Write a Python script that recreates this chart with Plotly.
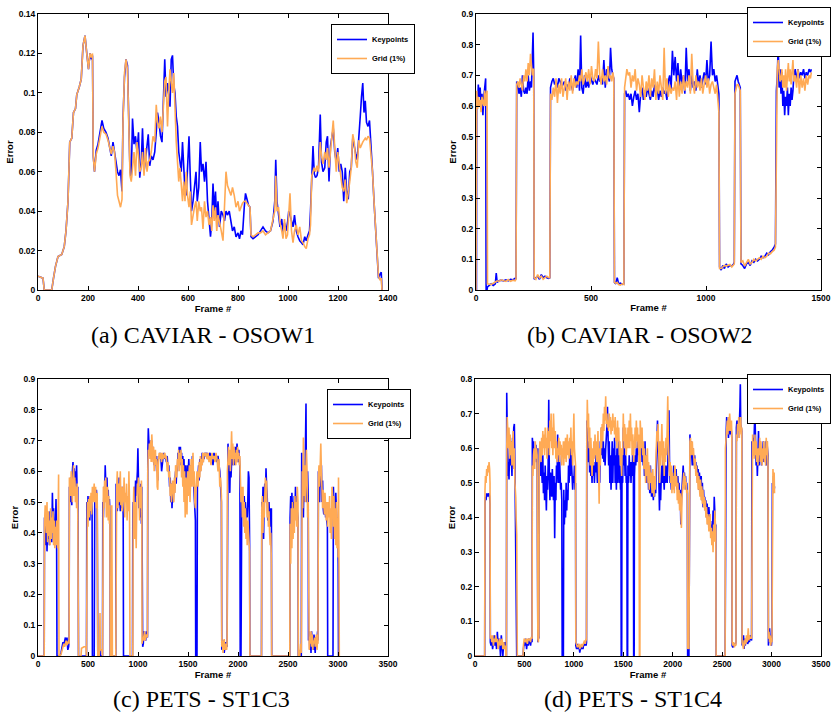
import plotly.graph_objects as go

# ---------------- data (frame, keypoints error, grid(1%) error) ----------------
osow1_rows = [
    (0, 0.007, 0.007), (20, 0.006, 0.006), (25, 0.0, 0.0), (55, 0.0, 0.0), (62, 0.006, 0.006),
    (70, 0.012, 0.012), (80, 0.017, 0.017), (95, 0.018, 0.018), (105, 0.022, 0.022), (112, 0.03, 0.03),
    (120, 0.045, 0.045), (127, 0.075, 0.075), (135, 0.077, 0.077), (142, 0.09, 0.09), (150, 0.092, 0.092),
    (155, 0.099, 0.099), (165, 0.103, 0.103), (173, 0.107, 0.107), (180, 0.124, 0.124), (188, 0.129, 0.129),
    (195, 0.12, 0.12), (202, 0.112, 0.112), (208, 0.12, 0.12), (214, 0.117, 0.118), (218, 0.119, 0.12),
    (221, 0.068, 0.068), (226, 0.06, 0.06), (233, 0.071, 0.069), (240, 0.074, 0.072), (248, 0.08, 0.078),
    (256, 0.086, 0.083), (263, 0.082, 0.08), (272, 0.08, 0.079), (280, 0.077, 0.076), (287, 0.071, 0.072),
    (293, 0.068, 0.069), (300, 0.075, 0.073), (306, 0.069, 0.07), (312, 0.066, 0.06), (318, 0.06, 0.048),
    (324, 0.058, 0.045), (330, 0.061, 0.042), (336, 0.05, 0.046), (340, 0.087, 0.085), (346, 0.108, 0.11),
    (352, 0.117, 0.117), (358, 0.114, 0.112), (363, 0.09, 0.085), (368, 0.06, 0.058), (373, 0.057, 0.055),
    (378, 0.087, 0.063), (384, 0.074, 0.07), (390, 0.078, 0.058), (396, 0.07, 0.075), (402, 0.08, 0.068),
    (407, 0.057, 0.06), (413, 0.065, 0.062), (418, 0.082, 0.07), (424, 0.06, 0.058), (430, 0.066, 0.072),
    (436, 0.075, 0.06), (441, 0.079, 0.065), (447, 0.063, 0.066), (453, 0.068, 0.07), (460, 0.066, 0.078),
    (467, 0.07, 0.075), (473, 0.08, 0.094), (478, 0.09, 0.085), (484, 0.085, 0.082), (490, 0.078, 0.088),
    (496, 0.075, 0.08), (502, 0.1, 0.099), (507, 0.117, 0.106), (512, 0.098, 0.108), (518, 0.105, 0.083),
    (523, 0.099, 0.1), (528, 0.093, 0.112), (533, 0.117, 0.105), (538, 0.119, 0.1), (543, 0.104, 0.11),
    (548, 0.1, 0.09), (553, 0.088, 0.075), (558, 0.083, 0.065), (563, 0.07, 0.055), (568, 0.065, 0.062),
    (573, 0.06, 0.05), (578, 0.075, 0.045), (583, 0.06, 0.055), (588, 0.05, 0.045), (593, 0.048, 0.06),
    (598, 0.062, 0.048), (604, 0.078, 0.042), (609, 0.058, 0.05), (614, 0.04, 0.033), (620, 0.045, 0.038),
    (626, 0.055, 0.042), (632, 0.06, 0.045), (637, 0.045, 0.035), (643, 0.052, 0.045), (649, 0.075, 0.04),
    (654, 0.06, 0.042), (660, 0.064, 0.031), (666, 0.055, 0.045), (672, 0.065, 0.037), (678, 0.045, 0.04),
    (684, 0.036, 0.033), (690, 0.027, 0.037), (695, 0.035, 0.03), (700, 0.054, 0.043), (705, 0.04, 0.035),
    (710, 0.05, 0.042), (715, 0.035, 0.03), (720, 0.045, 0.038), (726, 0.032, 0.035), (733, 0.04, 0.03),
    (740, 0.038, 0.025), (746, 0.035, 0.045), (752, 0.04, 0.06), (758, 0.038, 0.053), (765, 0.04, 0.05),
    (772, 0.035, 0.048), (778, 0.03, 0.052), (785, 0.032, 0.048), (792, 0.027, 0.042), (800, 0.029, 0.045),
    (806, 0.026, 0.04), (812, 0.03, 0.042), (818, 0.028, 0.044), (825, 0.042, 0.045), (830, 0.049, 0.045),
    (836, 0.046, 0.044), (842, 0.043, 0.043), (848, 0.042, 0.042), (852, 0.027, 0.028), (860, 0.026, 0.027),
    (870, 0.027, 0.028), (880, 0.028, 0.029), (890, 0.03, 0.029), (900, 0.032, 0.03), (910, 0.03, 0.028),
    (920, 0.029, 0.029), (930, 0.03, 0.03), (940, 0.035, 0.036), (947, 0.045, 0.04), (951, 0.066, 0.058),
    (956, 0.045, 0.04), (962, 0.038, 0.042), (968, 0.032, 0.034), (975, 0.036, 0.03), (980, 0.029, 0.026),
    (986, 0.034, 0.036), (992, 0.03, 0.026), (998, 0.034, 0.028), (1003, 0.04, 0.042), (1008, 0.038, 0.049),
    (1014, 0.035, 0.03), (1020, 0.032, 0.024), (1026, 0.038, 0.03), (1033, 0.03, 0.033), (1040, 0.027, 0.028),
    (1047, 0.025, 0.032), (1054, 0.024, 0.025), (1060, 0.023, 0.024), (1067, 0.027, 0.022), (1073, 0.025, 0.021),
    (1080, 0.028, 0.026), (1086, 0.03, 0.028), (1090, 0.04, 0.033), (1095, 0.06, 0.058), (1100, 0.073, 0.06),
    (1105, 0.059, 0.062), (1110, 0.057, 0.06), (1116, 0.058, 0.063), (1122, 0.062, 0.06), (1129, 0.089, 0.075),
    (1134, 0.065, 0.068), (1140, 0.06, 0.064), (1147, 0.062, 0.07), (1153, 0.075, 0.066), (1158, 0.078, 0.072),
    (1164, 0.055, 0.062), (1170, 0.073, 0.07), (1176, 0.078, 0.08), (1181, 0.082, 0.086), (1187, 0.07, 0.072),
    (1193, 0.065, 0.06), (1199, 0.072, 0.07), (1205, 0.06, 0.064), (1211, 0.064, 0.058), (1217, 0.06, 0.052),
    (1223, 0.045, 0.05), (1229, 0.062, 0.056), (1235, 0.05, 0.044), (1241, 0.046, 0.049), (1247, 0.06, 0.055),
    (1253, 0.062, 0.062), (1259, 0.077, 0.079), (1265, 0.072, 0.075), (1271, 0.069, 0.065), (1277, 0.066, 0.062),
    (1283, 0.08, 0.076), (1289, 0.088, 0.072), (1294, 0.098, 0.074), (1299, 0.105, 0.075), (1304, 0.09, 0.076),
    (1309, 0.096, 0.077), (1314, 0.085, 0.076), (1320, 0.083, 0.078), (1326, 0.086, 0.077), (1332, 0.075, 0.07),
    (1338, 0.06, 0.06), (1344, 0.045, 0.045), (1350, 0.032, 0.03), (1356, 0.02, 0.02), (1362, 0.006, 0.007),
    (1368, 0.008, 0.005), (1373, 0.009, 0.006), (1376, 0.0, 0.0),
]

osow2_rows = [
    (0, 0.0, 0.0), (2, 0.0, 0.6), (3, 0.62, 0.65), (7, 0.6, 0.59), (10, 0.67, 0.63), (14, 0.63, 0.6),
    (18, 0.66, 0.62), (22, 0.6, 0.58), (26, 0.64, 0.63), (30, 0.57, 0.61), (34, 0.63, 0.6), (38, 0.66, 0.65),
    (42, 0.69, 0.6), (44, 0.0, 0.63), (48, 0.0, 0.65), (50, 0.01, 0.02), (58, 0.015, 0.02), (66, 0.02, 0.018),
    (75, 0.015, 0.022), (84, 0.02, 0.025), (88, 0.055, 0.028), (92, 0.025, 0.03), (100, 0.03, 0.028),
    (110, 0.032, 0.033), (120, 0.03, 0.03), (130, 0.033, 0.028), (140, 0.03, 0.034), (150, 0.035, 0.028),
    (160, 0.033, 0.032), (170, 0.038, 0.03), (174, 0.035, 0.035), (177, 0.68, 0.67), (182, 0.67, 0.68),
    (187, 0.64, 0.66), (192, 0.66, 0.69), (197, 0.63, 0.67), (202, 0.7, 0.65), (207, 0.65, 0.7),
    (212, 0.64, 0.68), (217, 0.66, 0.72), (222, 0.64, 0.68), (227, 0.7, 0.74), (232, 0.65, 0.7),
    (237, 0.68, 0.77), (241, 0.66, 0.72), (245, 0.75, 0.7), (248, 0.84, 0.72), (251, 0.7, 0.72),
    (253, 0.035, 0.04), (260, 0.04, 0.035), (268, 0.045, 0.05), (276, 0.035, 0.04), (284, 0.05, 0.045),
    (292, 0.04, 0.035), (300, 0.045, 0.04), (308, 0.04, 0.045), (316, 0.038, 0.04), (321, 0.04, 0.04),
    (324, 0.66, 0.64), (330, 0.68, 0.62), (336, 0.69, 0.66), (342, 0.67, 0.63), (348, 0.68, 0.69),
    (354, 0.66, 0.61), (360, 0.69, 0.67), (366, 0.68, 0.64), (372, 0.66, 0.69), (378, 0.67, 0.63),
    (384, 0.68, 0.66), (390, 0.65, 0.69), (396, 0.67, 0.62), (402, 0.66, 0.68), (408, 0.69, 0.65),
    (414, 0.67, 0.7), (420, 0.65, 0.64), (426, 0.68, 0.69), (432, 0.7, 0.66), (438, 0.66, 0.68),
    (444, 0.72, 0.67), (450, 0.65, 0.7), (455, 0.83, 0.68), (460, 0.66, 0.72), (466, 0.64, 0.67),
    (472, 0.7, 0.69), (478, 0.66, 0.71), (484, 0.68, 0.68), (490, 0.66, 0.72), (496, 0.7, 0.67),
    (502, 0.68, 0.73), (508, 0.67, 0.69), (514, 0.69, 0.68), (520, 0.68, 0.72), (526, 0.67, 0.69),
    (532, 0.7, 0.81), (538, 0.68, 0.7), (544, 0.69, 0.67), (550, 0.67, 0.72), (556, 0.75, 0.68),
    (562, 0.66, 0.7), (568, 0.72, 0.67), (574, 0.7, 0.73), (580, 0.68, 0.69), (585, 0.79, 0.7),
    (590, 0.72, 0.68), (595, 0.7, 0.71), (599, 0.69, 0.69), (602, 0.025, 0.025), (608, 0.02, 0.022),
    (614, 0.04, 0.025), (620, 0.02, 0.018), (628, 0.022, 0.016), (636, 0.018, 0.02), (643, 0.02, 0.018),
    (646, 0.64, 0.66), (651, 0.65, 0.7), (656, 0.63, 0.72), (662, 0.64, 0.7), (668, 0.62, 0.71),
    (674, 0.64, 0.66), (680, 0.6, 0.7), (686, 0.63, 0.68), (692, 0.65, 0.72), (698, 0.62, 0.65),
    (704, 0.64, 0.69), (710, 0.58, 0.67), (716, 0.64, 0.63), (722, 0.66, 0.7), (728, 0.62, 0.66),
    (734, 0.65, 0.62), (740, 0.63, 0.68), (746, 0.66, 0.65), (752, 0.64, 0.7), (758, 0.62, 0.63),
    (764, 0.65, 0.69), (770, 0.63, 0.66), (776, 0.67, 0.72), (782, 0.64, 0.62), (788, 0.66, 0.68),
    (794, 0.62, 0.64), (800, 0.65, 0.7), (806, 0.63, 0.66), (812, 0.66, 0.62), (818, 0.64, 0.79),
    (824, 0.65, 0.64), (830, 0.62, 0.69), (836, 0.68, 0.63), (842, 0.7, 0.67), (848, 0.65, 0.64),
    (854, 0.78, 0.66), (860, 0.7, 0.65), (866, 0.76, 0.68), (872, 0.68, 0.62), (878, 0.74, 0.7),
    (884, 0.66, 0.63), (890, 0.72, 0.68), (896, 0.67, 0.64), (902, 0.7, 0.7), (908, 0.64, 0.65),
    (914, 0.79, 0.68), (920, 0.68, 0.66), (926, 0.72, 0.7), (932, 0.65, 0.64), (938, 0.7, 0.77),
    (944, 0.66, 0.67), (950, 0.68, 0.64), (956, 0.65, 0.7), (962, 0.72, 0.66), (968, 0.67, 0.68),
    (974, 0.7, 0.65), (980, 0.66, 0.69), (986, 0.68, 0.64), (992, 0.71, 0.67), (998, 0.67, 0.7),
    (1004, 0.75, 0.66), (1010, 0.68, 0.69), (1016, 0.7, 0.64), (1022, 0.81, 0.67), (1028, 0.7, 0.68),
    (1034, 0.72, 0.66), (1040, 0.68, 0.64), (1046, 0.7, 0.67), (1052, 0.66, 0.62), (1056, 0.64, 0.58),
    (1059, 0.075, 0.07), (1066, 0.065, 0.07), (1073, 0.08, 0.075), (1080, 0.07, 0.08), (1088, 0.085, 0.078),
    (1096, 0.075, 0.08), (1104, 0.08, 0.083), (1112, 0.078, 0.075), (1120, 0.085, 0.082), (1123, 0.09, 0.085),
    (1126, 0.68, 0.64), (1130, 0.69, 0.66), (1135, 0.7, 0.67), (1140, 0.68, 0.67), (1146, 0.67, 0.66),
    (1149, 0.66, 0.65), (1152, 0.085, 0.09), (1160, 0.08, 0.095), (1168, 0.07, 0.078), (1176, 0.085, 0.09),
    (1184, 0.09, 0.1), (1192, 0.08, 0.085), (1200, 0.095, 0.09), (1208, 0.09, 0.1), (1216, 0.1, 0.095),
    (1224, 0.095, 0.1), (1232, 0.1, 0.105), (1240, 0.11, 0.1), (1248, 0.105, 0.11), (1256, 0.11, 0.105),
    (1264, 0.12, 0.11), (1272, 0.115, 0.12), (1280, 0.125, 0.118), (1288, 0.13, 0.125), (1296, 0.14, 0.13),
    (1302, 0.15, 0.14), (1306, 0.65, 0.62), (1310, 0.7, 0.72), (1314, 0.8, 0.75), (1318, 0.66, 0.7),
    (1322, 0.72, 0.68), (1326, 0.64, 0.69), (1330, 0.71, 0.72), (1334, 0.6, 0.66), (1338, 0.65, 0.7),
    (1342, 0.57, 0.66), (1346, 0.63, 0.72), (1350, 0.6, 0.65), (1354, 0.66, 0.7), (1358, 0.57, 0.74),
    (1362, 0.64, 0.68), (1366, 0.6, 0.72), (1370, 0.66, 0.67), (1374, 0.62, 0.7), (1378, 0.65, 0.75),
    (1382, 0.7, 0.68), (1388, 0.72, 0.7), (1394, 0.68, 0.66), (1400, 0.72, 0.72), (1406, 0.69, 0.64),
    (1412, 0.71, 0.7), (1418, 0.7, 0.66), (1424, 0.72, 0.69), (1430, 0.69, 0.65), (1436, 0.71, 0.7),
    (1442, 0.7, 0.67), (1448, 0.72, 0.7), (1454, 0.71, 0.69), (1458, 0.72, 0.71),
]

st1c3_rows = [
    (0, 0.0, 0.0), (62, 0.0, 0.0), (65, 0.45, 0.43), (72, 0.4, 0.49), (78, 0.36, 0.45), (84, 0.47, 0.4),
    (90, 0.34, 0.5), (96, 0.42, 0.37), (102, 0.38, 0.47), (108, 0.45, 0.39), (114, 0.36, 0.44), (120, 0.47, 0.36),
    (126, 0.4, 0.48), (132, 0.44, 0.38), (138, 0.37, 0.45), (144, 0.53, 0.4), (150, 0.42, 0.47), (156, 0.48, 0.36),
    (162, 0.38, 0.44), (168, 0.44, 0.35), (174, 0.41, 0.42), (180, 0.51, 0.36), (186, 0.39, 0.44), (190, 0.0, 0.4),
    (196, 0.0, 0.35), (202, 0.0, 0.47), (206, 0.0, 0.59), (210, 0.0, 0.0), (220, 0.0, 0.0), (230, 0.01, 0.005),
    (240, 0.03, 0.02), (250, 0.045, 0.035), (258, 0.035, 0.04), (266, 0.05, 0.03), (274, 0.06, 0.045),
    (282, 0.04, 0.05), (290, 0.06, 0.035), (298, 0.02, 0.045), (306, 0.03, 0.05), (311, 0.05, 0.04),
    (314, 0.55, 0.58), (320, 0.5, 0.56), (326, 0.58, 0.52), (332, 0.55, 0.6), (338, 0.49, 0.54), (344, 0.6, 0.5),
    (350, 0.63, 0.57), (356, 0.57, 0.62), (362, 0.61, 0.52), (368, 0.55, 0.58), (374, 0.6, 0.5), (380, 0.57, 0.55),
    (386, 0.62, 0.48), (392, 0.52, 0.56), (398, 0.55, 0.46), (402, 0.33, 0.33), (405, 0.0, 0.0), (430, 0.0, 0.0),
    (435, 0.0, 0.025), (460, 0.0, 0.03), (480, 0.0, 0.03), (485, 0.0, 0.0), (488, 0.5, 0.48), (494, 0.45, 0.5),
    (500, 0.52, 0.42), (506, 0.47, 0.51), (512, 0.5, 0.45), (518, 0.44, 0.52), (524, 0.52, 0.47), (530, 0.47, 0.53),
    (536, 0.5, 0.46), (541, 0.47, 0.52), (544, 0.0, 0.55), (550, 0.0, 0.5), (556, 0.0, 0.53), (562, 0.0, 0.56),
    (568, 0.54, 0.5), (576, 0.52, 0.55), (584, 0.54, 0.48), (592, 0.5, 0.53), (598, 0.0, 0.0), (612, 0.0, 0.0),
    (615, 0.0, 0.02), (620, 0.02, 0.14), (623, 0.0, 0.02), (640, 0.0, 0.02), (645, 0.0, 0.0), (648, 0.5, 0.47),
    (654, 0.45, 0.55), (660, 0.55, 0.48), (666, 0.5, 0.57), (672, 0.62, 0.5), (678, 0.55, 0.58), (684, 0.5, 0.45),
    (690, 0.58, 0.52), (696, 0.48, 0.55), (702, 0.54, 0.44), (708, 0.45, 0.52), (714, 0.51, 0.43), (719, 0.47, 0.49),
    (722, 0.0, 0.0), (735, 0.0, 0.0), (738, 0.0, 0.49), (744, 0.0, 0.0), (778, 0.0, 0.0), (781, 0.56, 0.5),
    (787, 0.5, 0.55), (793, 0.47, 0.6), (799, 0.55, 0.48), (805, 0.49, 0.56), (811, 0.58, 0.5), (817, 0.5, 0.54),
    (823, 0.47, 0.6), (829, 0.53, 0.49), (835, 0.48, 0.55), (841, 0.55, 0.47), (847, 0.5, 0.52), (852, 0.46, 0.55),
    (855, 0.0, 0.5), (861, 0.0, 0.58), (867, 0.0, 0.45), (873, 0.0, 0.53), (879, 0.0, 0.5), (885, 0.0, 0.56),
    (891, 0.0, 0.44), (897, 0.0, 0.52), (903, 0.0, 0.47), (909, 0.0, 0.6), (915, 0.0, 0.5), (920, 0.0, 0.0),
    (945, 0.0, 0.0), (948, 0.45, 0.0), (952, 0.5, 0.45), (958, 0.47, 0.55), (964, 0.55, 0.38), (970, 0.5, 0.5),
    (976, 0.57, 0.45), (982, 0.52, 0.35), (988, 0.55, 0.5), (994, 0.6, 0.56), (999, 0.675, 0.54), (1004, 0.52, 0.58),
    (1010, 0.48, 0.5), (1016, 0.55, 0.44), (1022, 0.45, 0.55), (1028, 0.56, 0.48), (1034, 0.43, 0.57),
    (1038, 0.55, 0.52), (1041, 0.05, 0.04), (1047, 0.03, 0.06), (1053, 0.04, 0.05), (1059, 0.08, 0.07),
    (1065, 0.06, 0.08), (1071, 0.07, 0.05), (1077, 0.05, 0.06), (1083, 0.08, 0.07), (1090, 0.07, 0.06),
    (1095, 0.06, 0.07), (1098, 0.65, 0.6), (1103, 0.74, 0.67), (1108, 0.7, 0.65), (1114, 0.66, 0.69),
    (1120, 0.7, 0.64), (1126, 0.68, 0.7), (1132, 0.66, 0.63), (1138, 0.7, 0.72), (1144, 0.64, 0.67),
    (1150, 0.68, 0.63), (1156, 0.65, 0.68), (1162, 0.62, 0.6), (1168, 0.66, 0.64), (1174, 0.62, 0.67),
    (1180, 0.65, 0.62), (1186, 0.6, 0.64), (1192, 0.64, 0.55), (1198, 0.57, 0.54), (1204, 0.65, 0.63),
    (1212, 0.64, 0.66), (1220, 0.66, 0.64), (1228, 0.65, 0.66), (1236, 0.6, 0.63), (1244, 0.64, 0.66),
    (1252, 0.65, 0.64), (1260, 0.66, 0.65), (1268, 0.64, 0.66), (1276, 0.65, 0.64), (1284, 0.63, 0.65),
    (1292, 0.65, 0.6), (1300, 0.6, 0.63), (1308, 0.62, 0.58), (1316, 0.55, 0.6), (1322, 0.58, 0.52),
    (1328, 0.5, 0.56), (1334, 0.56, 0.5), (1340, 0.48, 0.54), (1346, 0.53, 0.57), (1352, 0.5, 0.55),
    (1358, 0.55, 0.5), (1364, 0.53, 0.58), (1370, 0.57, 0.53), (1376, 0.6, 0.62), (1382, 0.56, 0.6),
    (1388, 0.62, 0.58), (1394, 0.6, 0.64), (1400, 0.66, 0.62), (1406, 0.63, 0.67), (1412, 0.68, 0.6),
    (1418, 0.64, 0.66), (1424, 0.68, 0.63), (1430, 0.62, 0.67), (1436, 0.66, 0.58), (1442, 0.6, 0.64),
    (1448, 0.65, 0.55), (1454, 0.58, 0.62), (1460, 0.64, 0.5), (1466, 0.55, 0.6), (1472, 0.62, 0.45),
    (1478, 0.5, 0.58), (1484, 0.58, 0.5), (1490, 0.62, 0.46), (1496, 0.55, 0.6), (1502, 0.6, 0.52),
    (1508, 0.64, 0.57), (1514, 0.58, 0.62), (1520, 0.55, 0.5), (1526, 0.62, 0.58), (1532, 0.58, 0.64),
    (1538, 0.6, 0.55), (1544, 0.65, 0.62), (1550, 0.6, 0.66), (1556, 0.55, 0.55), (1562, 0.5, 0.6),
    (1568, 0.45, 0.5), (1574, 0.44, 0.48), (1577, 0.0, 0.52), (1584, 0.0, 0.56), (1590, 0.0, 0.6),
    (1594, 0.55, 0.58), (1600, 0.6, 0.55), (1606, 0.62, 0.6), (1612, 0.57, 0.63), (1618, 0.64, 0.58),
    (1624, 0.6, 0.65), (1630, 0.65, 0.6), (1636, 0.62, 0.64), (1642, 0.66, 0.62), (1648, 0.63, 0.66),
    (1654, 0.65, 0.63), (1660, 0.64, 0.66), (1670, 0.66, 0.65), (1680, 0.65, 0.66), (1690, 0.66, 0.64),
    (1700, 0.64, 0.66), (1710, 0.65, 0.63), (1720, 0.66, 0.65), (1730, 0.64, 0.62), (1740, 0.65, 0.66),
    (1750, 0.62, 0.64), (1760, 0.66, 0.65), (1770, 0.64, 0.63), (1780, 0.65, 0.66), (1790, 0.63, 0.64),
    (1800, 0.65, 0.6), (1810, 0.62, 0.64), (1818, 0.6, 0.55), (1826, 0.55, 0.58), (1834, 0.5, 0.52),
    (1838, 0.02, 0.03), (1844, 0.04, 0.05), (1850, 0.02, 0.01), (1856, 0.05, 0.04), (1862, 0.01, 0.055),
    (1868, 0.03, 0.02), (1874, 0.045, 0.04), (1880, 0.02, 0.035), (1886, 0.04, 0.02), (1891, 0.03, 0.04),
    (1894, 0.62, 0.6), (1900, 0.69, 0.66), (1906, 0.6, 0.68), (1912, 0.66, 0.62), (1918, 0.53, 0.67),
    (1924, 0.64, 0.6), (1930, 0.58, 0.7), (1936, 0.65, 0.73), (1942, 0.68, 0.64), (1948, 0.62, 0.69),
    (1954, 0.67, 0.62), (1960, 0.65, 0.68), (1966, 0.62, 0.64), (1972, 0.68, 0.66), (1978, 0.66, 0.62),
    (1984, 0.64, 0.67), (1990, 0.69, 0.63), (1996, 0.66, 0.68), (2002, 0.63, 0.64), (2008, 0.67, 0.66),
    (2014, 0.65, 0.62), (2019, 0.62, 0.65), (2022, 0.0, 0.6), (2030, 0.0, 0.5), (2038, 0.52, 0.55),
    (2044, 0.48, 0.45), (2050, 0.5, 0.55), (2056, 0.45, 0.42), (2062, 0.52, 0.5), (2068, 0.47, 0.4),
    (2074, 0.5, 0.48), (2080, 0.44, 0.38), (2086, 0.48, 0.45), (2092, 0.45, 0.36), (2098, 0.5, 0.44),
    (2104, 0.6, 0.4), (2110, 0.58, 0.36), (2116, 0.36, 0.34), (2119, 0.0, 0.0), (2235, 0.0, 0.0),
    (2238, 0.5, 0.48), (2244, 0.45, 0.52), (2250, 0.55, 0.4), (2256, 0.38, 0.5), (2262, 0.52, 0.45),
    (2268, 0.56, 0.55), (2274, 0.5, 0.58), (2280, 0.61, 0.5), (2286, 0.55, 0.57), (2292, 0.52, 0.45),
    (2298, 0.44, 0.5), (2304, 0.48, 0.42), (2310, 0.5, 0.47), (2316, 0.45, 0.4), (2322, 0.48, 0.36),
    (2328, 0.42, 0.4), (2334, 0.48, 0.3), (2337, 0.0, 0.0), (2518, 0.0, 0.0), (2521, 0.45, 0.43),
    (2527, 0.52, 0.3), (2533, 0.42, 0.48), (2539, 0.53, 0.35), (2545, 0.46, 0.5), (2551, 0.5, 0.38),
    (2557, 0.42, 0.48), (2563, 0.52, 0.4), (2569, 0.46, 0.52), (2575, 0.55, 0.44), (2581, 0.48, 0.5),
    (2587, 0.52, 0.42), (2593, 0.47, 0.55), (2600, 0.45, 0.5), (2603, 0.0, 0.0), (2610, 0.0, 0.02),
    (2618, 0.01, 0.0), (2626, 0.0, 0.04), (2633, 0.0, 0.01), (2637, 0.66, 0.55), (2642, 0.5, 0.6),
    (2648, 0.58, 0.48), (2654, 0.45, 0.71), (2660, 0.6, 0.52), (2666, 0.5, 0.62), (2672, 0.62, 0.5),
    (2676, 0.72, 0.6), (2680, 0.82, 0.55), (2684, 0.55, 0.67), (2690, 0.5, 0.6), (2696, 0.6, 0.45),
    (2702, 0.52, 0.5), (2705, 0.05, 0.03), (2712, 0.08, 0.02), (2718, 0.02, 0.06), (2724, 0.07, 0.04),
    (2730, 0.01, 0.08), (2736, 0.08, 0.03), (2742, 0.03, 0.07), (2748, 0.06, 0.02), (2754, 0.02, 0.05),
    (2760, 0.07, 0.04), (2766, 0.04, 0.06), (2772, 0.01, 0.03), (2778, 0.06, 0.05), (2784, 0.03, 0.07),
    (2790, 0.05, 0.02), (2796, 0.08, 0.06), (2800, 0.05, 0.04), (2804, 0.6, 0.58), (2810, 0.56, 0.62),
    (2816, 0.5, 0.55), (2822, 0.6, 0.65), (2828, 0.55, 0.69), (2834, 0.62, 0.6), (2840, 0.5, 0.56),
    (2846, 0.57, 0.48), (2852, 0.48, 0.54), (2858, 0.46, 0.5), (2864, 0.52, 0.46), (2870, 0.5, 0.53),
    (2876, 0.45, 0.48), (2882, 0.48, 0.44), (2888, 0.44, 0.5), (2894, 0.42, 0.47), (2897, 0.0, 0.42),
    (2904, 0.0, 0.5), (2910, 0.0, 0.45), (2916, 0.0, 0.52), (2922, 0.0, 0.4), (2928, 0.0, 0.48),
    (2934, 0.0, 0.38), (2940, 0.0, 0.55), (2950, 0.0, 0.5), (2954, 0.55, 0.42), (2960, 0.48, 0.52),
    (2966, 0.52, 0.38), (2972, 0.45, 0.48), (2978, 0.53, 0.36), (2984, 0.47, 0.5), (2990, 0.42, 0.35),
    (2996, 0.45, 0.45), (3002, 0.3, 0.32), (3005, 0.0, 0.58), (3010, 0.0, 0.3), (3013, 0.0, 0.0),
]

st1c4_rows = [
    (0, 0.0, 0.0), (98, 0.0, 0.0), (101, 0.44, 0.48), (106, 0.46, 0.52), (112, 0.45, 0.5), (118, 0.47, 0.54),
    (124, 0.46, 0.52), (130, 0.47, 0.55), (136, 0.46, 0.53), (142, 0.47, 0.56), (148, 0.46, 0.54), (152, 0.44, 0.5),
    (155, 0.04, 0.05), (162, 0.03, 0.06), (170, 0.05, 0.04), (178, 0.02, 0.06), (186, 0.04, 0.03), (194, 0.06, 0.05),
    (202, 0.03, 0.04), (210, 0.05, 0.06), (218, 0.02, 0.04), (226, 0.07, 0.05), (234, 0.03, 0.02), (242, 0.05, 0.04),
    (250, 0.04, 0.05), (258, 0.0, 0.03), (266, 0.06, 0.04), (274, 0.01, 0.05), (282, 0.0, 0.02), (290, 0.04, 0.04),
    (298, 0.03, 0.02), (306, 0.04, 0.03), (314, 0.0, 0.0), (318, 0.0, 0.0), (321, 0.76, 0.6), (326, 0.6, 0.69),
    (332, 0.52, 0.65), (338, 0.56, 0.6), (344, 0.51, 0.66), (350, 0.6, 0.57), (356, 0.55, 0.64), (362, 0.62, 0.58),
    (368, 0.58, 0.62), (374, 0.52, 0.55), (380, 0.63, 0.6), (386, 0.6, 0.65), (392, 0.66, 0.54), (398, 0.67, 0.6),
    (404, 0.55, 0.5), (408, 0.4, 0.48), (412, 0.38, 0.46), (416, 0.0, 0.4), (422, 0.0, 0.35), (428, 0.0, 0.0),
    (486, 0.0, 0.0), (490, 0.02, 0.03), (498, 0.04, 0.05), (506, 0.03, 0.045), (514, 0.05, 0.04), (522, 0.02, 0.05),
    (530, 0.045, 0.035), (538, 0.03, 0.05), (546, 0.05, 0.045), (554, 0.04, 0.05), (562, 0.03, 0.04),
    (570, 0.05, 0.055), (577, 0.04, 0.05), (580, 0.63, 0.55), (586, 0.6, 0.52), (592, 0.62, 0.58), (598, 0.55, 0.6),
    (604, 0.6, 0.54), (610, 0.58, 0.62), (616, 0.61, 0.57), (622, 0.56, 0.6), (628, 0.6, 0.58), (631, 0.05, 0.07),
    (636, 0.04, 0.05), (641, 0.06, 0.04), (646, 0.05, 0.06), (649, 0.6, 0.55), (656, 0.58, 0.62), (662, 0.52, 0.6),
    (668, 0.6, 0.56), (674, 0.54, 0.63), (680, 0.5, 0.58), (686, 0.58, 0.65), (692, 0.47, 0.6), (698, 0.53, 0.64),
    (704, 0.45, 0.58), (710, 0.55, 0.66), (716, 0.5, 0.6), (722, 0.42, 0.63), (728, 0.52, 0.57), (734, 0.48, 0.66),
    (740, 0.55, 0.6), (746, 0.74, 0.65), (752, 0.52, 0.58), (758, 0.45, 0.68), (764, 0.53, 0.62), (770, 0.5, 0.7),
    (776, 0.46, 0.6), (782, 0.54, 0.66), (788, 0.5, 0.58), (794, 0.45, 0.7), (800, 0.52, 0.62), (806, 0.34, 0.6),
    (812, 0.5, 0.65), (818, 0.45, 0.57), (824, 0.55, 0.62), (830, 0.5, 0.56), (836, 0.64, 0.6), (842, 0.55, 0.58),
    (848, 0.5, 0.63), (854, 0.58, 0.56), (860, 0.52, 0.62), (866, 0.48, 0.58), (872, 0.5, 0.61), (878, 0.45, 0.55),
    (882, 0.0, 0.6), (888, 0.0, 0.58), (894, 0.0, 0.62), (898, 0.48, 0.55), (904, 0.38, 0.62), (910, 0.45, 0.57),
    (916, 0.4, 0.63), (922, 0.5, 0.56), (928, 0.42, 0.6), (934, 0.48, 0.64), (940, 0.45, 0.58), (946, 0.55, 0.62),
    (952, 0.5, 0.57), (958, 0.58, 0.63), (964, 0.52, 0.6), (970, 0.6, 0.66), (976, 0.55, 0.58), (982, 0.5, 0.62),
    (988, 0.48, 0.55), (994, 0.52, 0.64), (1000, 0.5, 0.7), (1006, 0.55, 0.6), (1012, 0.48, 0.58), (1017, 0.5, 0.55),
    (1020, 0.03, 0.04), (1028, 0.02, 0.03), (1036, 0.035, 0.025), (1044, 0.02, 0.03), (1052, 0.03, 0.035),
    (1060, 0.01, 0.02), (1068, 0.025, 0.03), (1076, 0.02, 0.035), (1084, 0.03, 0.025), (1092, 0.02, 0.03),
    (1100, 0.035, 0.04), (1108, 0.03, 0.045), (1116, 0.04, 0.035), (1124, 0.03, 0.05), (1128, 0.04, 0.045),
    (1131, 0.68, 0.62), (1136, 0.62, 0.74), (1142, 0.6, 0.66), (1148, 0.56, 0.7), (1154, 0.62, 0.6),
    (1160, 0.53, 0.66), (1166, 0.58, 0.55), (1172, 0.52, 0.63), (1178, 0.55, 0.58), (1184, 0.5, 0.52),
    (1190, 0.58, 0.6), (1196, 0.52, 0.55), (1202, 0.56, 0.62), (1208, 0.5, 0.57), (1214, 0.55, 0.64),
    (1220, 0.53, 0.58), (1226, 0.6, 0.62), (1232, 0.55, 0.56), (1238, 0.5, 0.6), (1244, 0.57, 0.65),
    (1250, 0.52, 0.54), (1256, 0.55, 0.44), (1262, 0.5, 0.6), (1268, 0.62, 0.55), (1274, 0.58, 0.66),
    (1280, 0.66, 0.6), (1286, 0.6, 0.67), (1292, 0.57, 0.62), (1298, 0.62, 0.7), (1304, 0.56, 0.65),
    (1310, 0.6, 0.72), (1316, 0.55, 0.68), (1322, 0.6, 0.75), (1328, 0.62, 0.67), (1334, 0.66, 0.7),
    (1340, 0.72, 0.66), (1346, 0.6, 0.68), (1352, 0.55, 0.65), (1358, 0.62, 0.7), (1364, 0.5, 0.66),
    (1370, 0.58, 0.69), (1376, 0.48, 0.64), (1382, 0.55, 0.68), (1388, 0.62, 0.65), (1394, 0.5, 0.7),
    (1400, 0.6, 0.66), (1406, 0.55, 0.68), (1412, 0.63, 0.64), (1418, 0.5, 0.69), (1424, 0.58, 0.62),
    (1430, 0.48, 0.66), (1436, 0.6, 0.6), (1442, 0.5, 0.68), (1448, 0.55, 0.62), (1454, 0.62, 0.66),
    (1460, 0.5, 0.58), (1466, 0.55, 0.62), (1472, 0.48, 0.55), (1476, 0.52, 0.6), (1479, 0.0, 0.58),
    (1484, 0.0, 0.52), (1487, 0.55, 0.6), (1494, 0.5, 0.58), (1500, 0.66, 0.7), (1506, 0.55, 0.62),
    (1512, 0.6, 0.67), (1518, 0.52, 0.6), (1524, 0.58, 0.66), (1530, 0.5, 0.58), (1536, 0.52, 0.62),
    (1539, 0.0, 0.64), (1544, 0.0, 0.6), (1547, 0.55, 0.66), (1554, 0.5, 0.6), (1560, 0.58, 0.68),
    (1566, 0.52, 0.6), (1572, 0.56, 0.7), (1578, 0.5, 0.62), (1584, 0.56, 0.66), (1590, 0.52, 0.58),
    (1596, 0.6, 0.64), (1602, 0.55, 0.6), (1605, 0.0, 0.56), (1610, 0.0, 0.62), (1613, 0.52, 0.6),
    (1620, 0.58, 0.66), (1626, 0.55, 0.6), (1632, 0.6, 0.68), (1638, 0.56, 0.62), (1644, 0.62, 0.66),
    (1650, 0.58, 0.6), (1656, 0.6, 0.64), (1660, 0.58, 0.52), (1663, 0.6, 0.0), (1668, 0.58, 0.0),
    (1671, 0.62, 0.68), (1678, 0.58, 0.64), (1684, 0.64, 0.6), (1690, 0.56, 0.66), (1696, 0.6, 0.58),
    (1702, 0.55, 0.62), (1708, 0.6, 0.54), (1714, 0.52, 0.6), (1720, 0.62, 0.55), (1726, 0.55, 0.5),
    (1732, 0.5, 0.58), (1738, 0.58, 0.52), (1744, 0.5, 0.6), (1750, 0.55, 0.5), (1756, 0.48, 0.56),
    (1762, 0.52, 0.48), (1768, 0.47, 0.55), (1774, 0.55, 0.5), (1780, 0.5, 0.53), (1786, 0.46, 0.5),
    (1792, 0.52, 0.47), (1798, 0.48, 0.54), (1804, 0.45, 0.5), (1810, 0.5, 0.46), (1816, 0.46, 0.52),
    (1822, 0.52, 0.48), (1828, 0.47, 0.55), (1834, 0.55, 0.6), (1840, 0.6, 0.65), (1846, 0.68, 0.62),
    (1852, 0.62, 0.67), (1858, 0.55, 0.6), (1862, 0.45, 0.55), (1866, 0.42, 0.5), (1872, 0.5, 0.62),
    (1878, 0.45, 0.55), (1884, 0.52, 0.6), (1890, 0.55, 0.67), (1896, 0.5, 0.6), (1902, 0.58, 0.55),
    (1908, 0.52, 0.62), (1914, 0.48, 0.52), (1920, 0.55, 0.6), (1926, 0.5, 0.56), (1932, 0.55, 0.63),
    (1938, 0.52, 0.58), (1944, 0.5, 0.66), (1950, 0.55, 0.75), (1956, 0.6, 0.62), (1962, 0.71, 0.58),
    (1968, 0.55, 0.52), (1974, 0.5, 0.56), (1980, 0.52, 0.5), (1986, 0.48, 0.55), (1992, 0.5, 0.47),
    (1998, 0.52, 0.53), (2004, 0.5, 0.48), (2010, 0.55, 0.52), (2016, 0.5, 0.47), (2022, 0.53, 0.55),
    (2028, 0.5, 0.5), (2034, 0.54, 0.49), (2040, 0.5, 0.52), (2046, 0.48, 0.45), (2052, 0.52, 0.5),
    (2058, 0.47, 0.44), (2064, 0.5, 0.48), (2070, 0.45, 0.42), (2076, 0.48, 0.47), (2082, 0.38, 0.4),
    (2088, 0.45, 0.37), (2094, 0.5, 0.46), (2100, 0.52, 0.48), (2106, 0.55, 0.5), (2112, 0.5, 0.53),
    (2118, 0.53, 0.48), (2124, 0.5, 0.52), (2130, 0.52, 0.5), (2136, 0.48, 0.5), (2142, 0.5, 0.47),
    (2148, 0.47, 0.48), (2151, 0.0, 0.02), (2157, 0.01, 0.03), (2164, 0.0, 0.02), (2168, 0.63, 0.6),
    (2174, 0.64, 0.62), (2180, 0.6, 0.63), (2186, 0.62, 0.58), (2192, 0.58, 0.6), (2198, 0.55, 0.62),
    (2204, 0.6, 0.58), (2210, 0.57, 0.6), (2216, 0.55, 0.56), (2222, 0.58, 0.54), (2228, 0.54, 0.57),
    (2234, 0.56, 0.52), (2240, 0.52, 0.55), (2246, 0.55, 0.5), (2252, 0.5, 0.53), (2258, 0.54, 0.48),
    (2264, 0.48, 0.52), (2270, 0.53, 0.49), (2276, 0.5, 0.46), (2282, 0.47, 0.51), (2288, 0.52, 0.45),
    (2294, 0.45, 0.49), (2300, 0.5, 0.44), (2306, 0.43, 0.48), (2312, 0.48, 0.43), (2318, 0.44, 0.46),
    (2324, 0.46, 0.42), (2330, 0.42, 0.45), (2336, 0.45, 0.4), (2342, 0.4, 0.43), (2348, 0.44, 0.38),
    (2354, 0.42, 0.41), (2360, 0.38, 0.4), (2366, 0.43, 0.36), (2372, 0.4, 0.38), (2378, 0.37, 0.41),
    (2384, 0.39, 0.34), (2390, 0.35, 0.37), (2396, 0.38, 0.32), (2402, 0.34, 0.36), (2408, 0.42, 0.3),
    (2414, 0.35, 0.38), (2420, 0.46, 0.33), (2426, 0.4, 0.42), (2432, 0.37, 0.38), (2436, 0.38, 0.36),
    (2439, 0.0, 0.0), (2530, 0.0, 0.0), (2533, 0.62, 0.6), (2540, 0.64, 0.63), (2546, 0.69, 0.66),
    (2552, 0.65, 0.68), (2558, 0.67, 0.64), (2564, 0.63, 0.69), (2570, 0.68, 0.65), (2576, 0.66, 0.7),
    (2582, 0.64, 0.67), (2588, 0.67, 0.65), (2594, 0.65, 0.68), (2598, 0.63, 0.64), (2601, 0.03, 0.04),
    (2608, 0.025, 0.03), (2616, 0.03, 0.04), (2624, 0.035, 0.025), (2632, 0.03, 0.035), (2640, 0.04, 0.03),
    (2644, 0.66, 0.64), (2650, 0.68, 0.62), (2656, 0.63, 0.67), (2662, 0.68, 0.65), (2668, 0.66, 0.69),
    (2674, 0.67, 0.63), (2680, 0.72, 0.67), (2684, 0.785, 0.65), (2688, 0.67, 0.69), (2694, 0.66, 0.64),
    (2699, 0.65, 0.66), (2702, 0.03, 0.04), (2710, 0.04, 0.03), (2716, 0.06, 0.02), (2722, 0.02, 0.045),
    (2728, 0.05, 0.03), (2734, 0.03, 0.05), (2740, 0.045, 0.035), (2746, 0.04, 0.06), (2752, 0.05, 0.04),
    (2758, 0.035, 0.05), (2764, 0.04, 0.08), (2770, 0.05, 0.045), (2776, 0.04, 0.06), (2782, 0.06, 0.05),
    (2790, 0.05, 0.055), (2798, 0.045, 0.05), (2801, 0.62, 0.6), (2808, 0.6, 0.64), (2814, 0.63, 0.58),
    (2820, 0.58, 0.62), (2826, 0.66, 0.57), (2832, 0.7, 0.64), (2838, 0.62, 0.58), (2844, 0.55, 0.62),
    (2850, 0.6, 0.56), (2856, 0.52, 0.6), (2862, 0.58, 0.55), (2868, 0.65, 0.6), (2874, 0.55, 0.58),
    (2880, 0.62, 0.63), (2886, 0.58, 0.56), (2892, 0.6, 0.62), (2898, 0.55, 0.58), (2904, 0.6, 0.55),
    (2910, 0.58, 0.6), (2916, 0.62, 0.57), (2922, 0.56, 0.62), (2928, 0.6, 0.56), (2934, 0.57, 0.6),
    (2940, 0.62, 0.55), (2946, 0.55, 0.63), (2952, 0.62, 0.58), (2958, 0.6, 0.62), (2964, 0.58, 0.55),
    (2968, 0.03, 0.05), (2974, 0.05, 0.07), (2980, 0.08, 0.04), (2986, 0.04, 0.06), (2992, 0.06, 0.03),
    (2998, 0.03, 0.05), (3004, 0.05, 0.04), (3008, 0.5, 0.47), (3014, 0.47, 0.54), (3020, 0.52, 0.5),
    (3026, 0.48, 0.53), (3030, 0.49, 0.47),
]

captions = ["(a) CAVIAR - OSOW1", "(b) CAVIAR - OSOW2", "(c) PETS - ST1C3", "(d) PETS - ST1C4"]
series_names = ["Keypoints", "Grid (1%)"]

osow1_xticks = [0, 200, 400, 600, 800, 1000, 1200, 1400]
osow1_yticks = [0, 0.02, 0.04, 0.06, 0.08, 0.1, 0.12, 0.14]
osow2_xticks = [0, 500, 1000, 1500]
osow2_yticks = [0, 0.1, 0.2, 0.3, 0.4, 0.5, 0.6, 0.7, 0.8, 0.9]
pets_xticks = [0, 500, 1000, 1500, 2000, 2500, 3000, 3500]
st1c3_yticks = [0, 0.1, 0.2, 0.3, 0.4, 0.5, 0.6, 0.7, 0.8, 0.9]
st1c4_yticks = [0, 0.1, 0.2, 0.3, 0.4, 0.5, 0.6, 0.7, 0.8]

# ---------------- styling / layout ----------------
W, H = 832, 714
BLUE = "#0000FF"
ORANGE = "#FFAA55"
SANS = "Liberation Sans"
SERIF = "Liberation Serif"


def fmt(v):
    return "%g" % v


# box = plot area in pixels (left, right, top, bottom); leg = (x, y, anchor)
panels = [
    dict(rows=osow1_rows, xr=[0, 1400], yr=[0, 0.14], xt=osow1_xticks, yt=osow1_yticks,
         box=(38, 388, 14, 290), leg=(331, 24, "left"), cap=(203, 335)),
    dict(rows=osow2_rows, xr=[0, 1500], yr=[0, 0.9], xt=osow2_xticks, yt=osow2_yticks,
         box=(476, 821, 14, 290), leg=(831, 7, "right"), cap=(640, 335)),
    dict(rows=st1c3_rows, xr=[0, 3500], yr=[0, 0.9], xt=pets_xticks, yt=st1c3_yticks,
         box=(38, 388, 379, 656), leg=(327, 389, "left"), cap=(201, 699)),
    dict(rows=st1c4_rows, xr=[0, 3500], yr=[0, 0.8], xt=pets_xticks, yt=st1c4_yticks,
         box=(475, 821, 379, 656), leg=(831, 374, "right"), cap=(633, 699)),
]

fig = go.Figure()
layout = dict(width=W, height=H, autosize=False,
              margin=dict(l=0, r=0, t=0, b=0, autoexpand=False),
              paper_bgcolor="white", plot_bgcolor="white", showlegend=True)
annotations = []

for i, p in enumerate(panels):
    n = "" if i == 0 else str(i + 1)
    frames = [r[0] for r in p["rows"]]
    keypoints = [r[1] for r in p["rows"]]
    grid = [r[2] for r in p["rows"]]
    legname = "legend" + n
    fig.add_trace(go.Scatter(x=frames, y=keypoints, mode="lines", name=series_names[0],
                             line=dict(color=BLUE, width=1.6), xaxis="x" + n, yaxis="y" + n,
                             legend=legname))
    fig.add_trace(go.Scatter(x=frames, y=grid, mode="lines", name=series_names[1],
                             line=dict(color=ORANGE, width=1.6), xaxis="x" + n, yaxis="y" + n,
                             legend=legname))
    x0, x1, y0, y1 = p["box"]
    common = dict(showline=True, linecolor="black", linewidth=1, mirror="ticks", ticks="inside",
                  ticklen=4, tickcolor="black", showgrid=False, zeroline=False, automargin=False,
                  ticklabeloverflow="allow",
                  tickfont=dict(family=SANS, size=8.5, color="black", weight="bold"))
    layout["xaxis" + n] = dict(common, domain=[x0 / W, x1 / W], range=p["xr"], anchor="y" + n,
                               tickvals=p["xt"], ticktext=[fmt(v) for v in p["xt"]],
                               title=dict(text="Frame #", standoff=2,
                                          font=dict(family=SANS, size=9.5, color="black", weight="bold")))
    layout["yaxis" + n] = dict(common, domain=[1 - y1 / H, 1 - y0 / H], range=p["yr"], anchor="x" + n,
                               tickvals=p["yt"], ticktext=[fmt(v) for v in p["yt"]],
                               title=dict(text="Error", standoff=3,
                                          font=dict(family=SANS, size=9.5, color="black", weight="bold")))
    lx, ly, lanchor = p["leg"]
    layout[legname] = dict(x=lx / W, y=1 - ly / H, xanchor=lanchor, yanchor="top", bgcolor="white",
                           bordercolor="black", borderwidth=1, tracegroupgap=0, itemwidth=30,
                           font=dict(family=SANS, size=7.5, color="black", weight="bold"))
    cx, cy = p["cap"]
    annotations.append(dict(text=captions[i], x=cx / W, y=1 - cy / H, xref="paper", yref="paper",
                            xanchor="center", yanchor="middle", showarrow=False,
                            font=dict(family=SERIF, size=24, color="black")))

layout["annotations"] = annotations
fig.update_layout(**layout)
fig.write_html("out.html", config={"displayModeBar": False})

# remove the browser's default page margin so the figure sits at the window origin
with open("out.html", encoding="utf-8") as f:
    page = f.read()
page = page.replace("<head>", "<head><style>html,body{margin:0;padding:0;overflow:hidden;}</style>", 1)
with open("out.html", "w", encoding="utf-8") as f:
    f.write(page)
